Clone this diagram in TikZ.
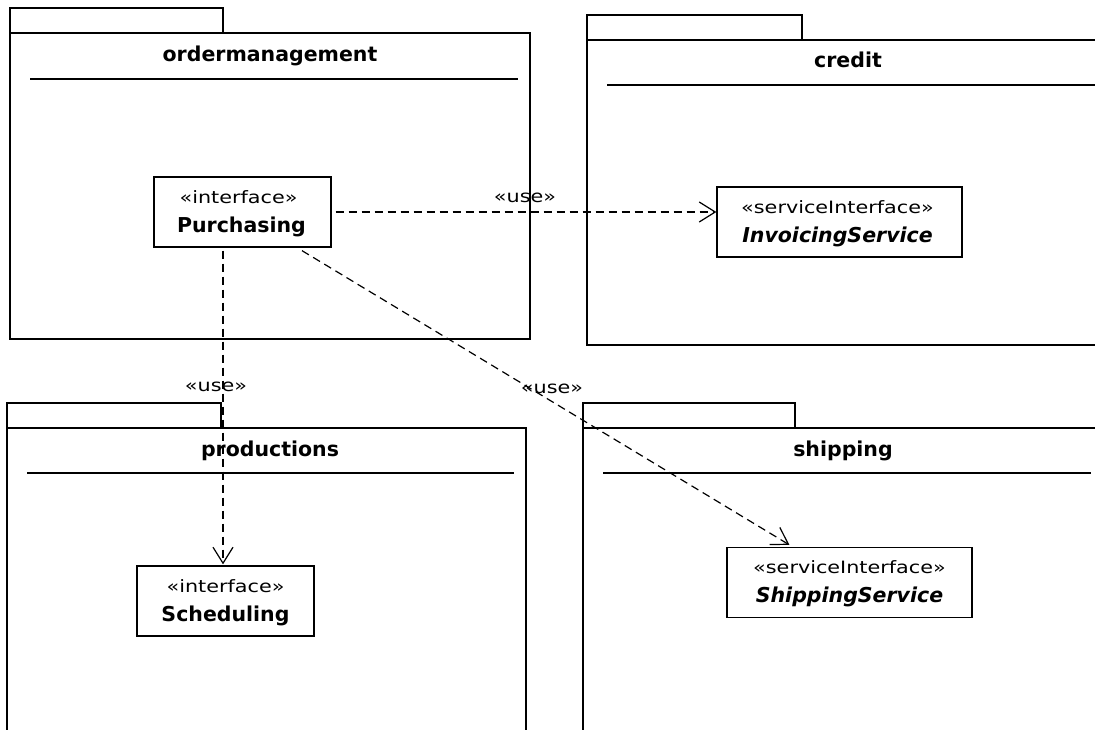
\documentclass[tikz,border=0pt]{standalone}
\usepackage{fontspec}
\setmainfont{DejaVu Sans}
\newfontfamily\stfont[FakeStretch=1.22]{DejaVu Sans}
\usetikzlibrary{arrows.meta,calc}
\begin{document}
\begin{tikzpicture}[x=1pt,y=-1pt,
  pkgline/.style={draw=black, line width=1.3pt},
  tabline/.style={draw=black, line width=2.6pt},
  pkgtitle/.style={anchor=base, inner sep=0pt, font=\fontsize{20.5}{24}\selectfont\bfseries},
  cbox/.style={draw=black, line width=1.3pt, fill=white, inner sep=0pt, minimum width=#1, minimum height=70pt},
  stereo/.style={anchor=base, inner sep=0pt, font=\stfont\fontsize{17}{20}\selectfont},
  cname/.style={anchor=base, inner sep=0pt, font=\fontsize{20.5}{24}\selectfont\bfseries},
  cnamei/.style={anchor=base, inner sep=0pt, font=\fontsize{20.5}{24}\selectfont\bfseries\itshape},
  dep/.style={draw=black, line width=1.2pt, dash pattern=on 8pt off 5pt, -{Straight Barb[length=16pt,width=20pt]}},
  uselbl/.style={inner sep=0pt, font=\stfont\fontsize{17}{20}\selectfont}
]
\useasboundingbox[fill=white] (0,0) rectangle (1095,730);
\clip (0,0) rectangle (1095,730);

% ---- package ordermanagement
\draw[pkgline] (10,33) rectangle (530,339);
\draw[pkgline] (10,8) rectangle (223,33);
\draw[tabline] (10,33) -- (223,33);
\node[pkgtitle] (omtitle) at (270,62) {ordermanagement};
\draw[pkgline] (30,79) -- (518,79);

% ---- package credit
\draw[pkgline] (587,40) rectangle (1109,345);
\draw[pkgline] (587,15) rectangle (802,40);
\draw[tabline] (587,40) -- (802,40);
\node[pkgtitle] (crtitle) at (848,68) {credit};
\draw[pkgline] (607,85) -- (1097,85);

% ---- package productions
\draw[pkgline] (7,428) rectangle (526,745);
\draw[pkgline] (7,403) rectangle (221,428);
\draw[tabline] (7,428) -- (221,428);
\node[pkgtitle] (prtitle) at (270,456) {productions};
\draw[pkgline] (27,473) -- (514,473);

% ---- package shipping
\draw[pkgline] (583,428) rectangle (1103,745);
\draw[pkgline] (583,403) rectangle (795,428);
\draw[tabline] (583,428) -- (795,428);
\node[pkgtitle] (shtitle) at (843,456) {shipping};
\draw[pkgline] (603,473) -- (1091,473);

% ---- classes
\node[cbox=177pt] (purch) at (242.5,212) {};
\node[stereo] (purchst) at ($(purch.north)+(-4,27)$) {«interface»};
\node[cname] (purchnm) at ($(purch.north)+(-1,56)$) {Purchasing};

\node[cbox=245pt] (inv) at (839.5,222) {};
\node[stereo] (invst) at ($(inv.north)+(-2,27)$) {«serviceInterface»};
\node[cnamei] (invnm) at ($(inv.north)+(-2,56)$) {InvoicingService};

\node[cbox=177pt] (sched) at (225.5,601) {};
\node[stereo] (schedst) at ($(sched.north)+(0,27)$) {«interface»};
\node[cname] (schednm) at ($(sched.north)+(0,56)$) {Scheduling};

\node[cbox=245pt] (ship) at (849.5,582.5) {};
\node[stereo] (shipst) at ($(ship.north)+(0,27)$) {«serviceInterface»};
\node[cnamei] (shipnm) at ($(ship.north)+(0,56)$) {ShippingService};

% ---- dependencies
\draw[dep, shorten <=4pt] (purch.east) -- (purch.east -| inv.west);
\draw[dep, shorten <=3pt] ($(purch.south)+(-19.5,0)$) -- ($(sched.north)+(-2.5,-1)$);
\draw[dep] ($(purch.south)+(59.5,3)$) -- ($(ship.north west)+(63,-2)$);

\node[uselbl] (u1) at (525,198) {«use»};
\node[uselbl] (u2) at (216,387) {«use»};
\node[uselbl] (u3) at (552,389) {«use»};
\end{tikzpicture}
\end{document}
